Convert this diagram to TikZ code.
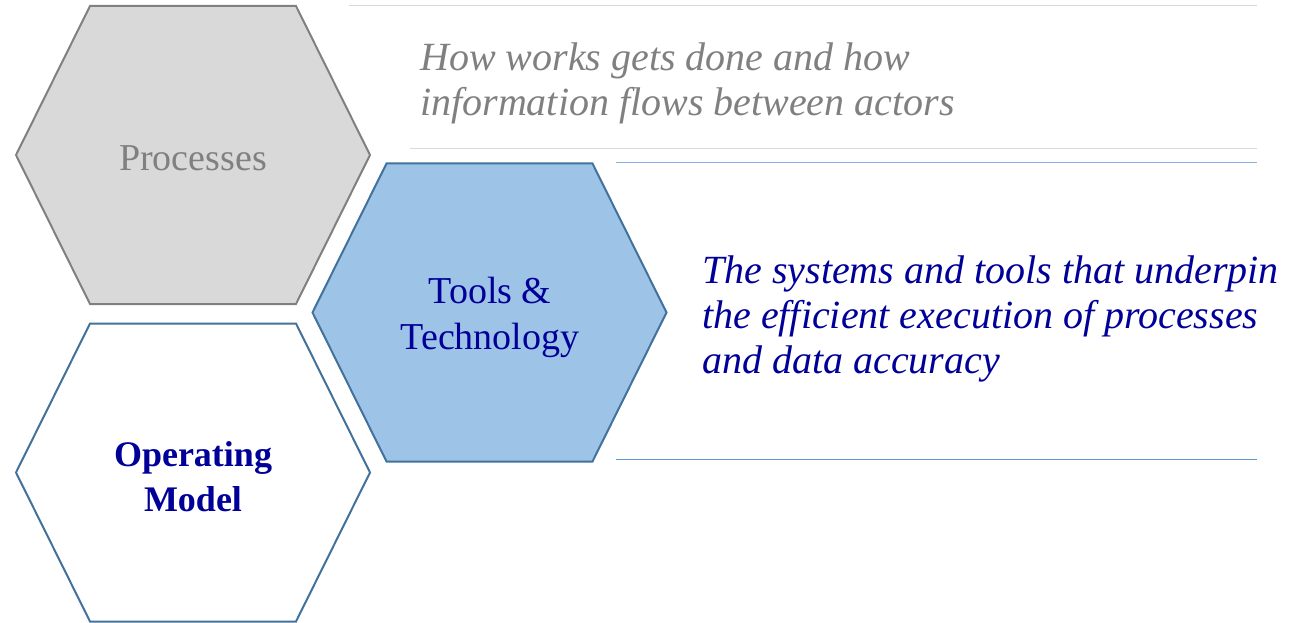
\documentclass[tikz,border=0pt]{standalone}
\usepackage{fontspec}
\setmainfont{Liberation Serif}
\usepackage{tikz}
\usetikzlibrary{positioning}

\definecolor{procfill}{HTML}{D9D9D9}
\definecolor{procline}{HTML}{808080}
\definecolor{toolfill}{HTML}{9DC3E6}
\definecolor{toolline}{HTML}{41719C}
\definecolor{darkblue}{HTML}{000099}
\definecolor{rulegray}{HTML}{D9D9D9}
\definecolor{ruleblue}{HTML}{5B9BD5}

\begin{document}
\begin{tikzpicture}[x=1pt, y=-1pt, inner sep=0pt]
    \tikzset{hexa/.pic={\path[pic actions] (-103,-149) -- (103,-149) -- (177,0)
        -- (103,149) -- (-103,149) -- (-177,0) -- cycle;}}
    \tikzstyle{procbox}=[fill=procfill, draw=procline, line width=2pt]
    \tikzstyle{toolbox}=[fill=toolfill, draw=toolline, line width=2pt]
    \tikzstyle{opbox}=[fill=white, draw=toolline, line width=2pt]
    \tikzstyle{hextext}=[align=center, font=\fontsize{38}{46}\selectfont]
    \tikzstyle{note}=[align=left, anchor=west, font=\fontsize{40}{45}\selectfont\itshape]
    \tikzstyle{rule}=[line width=1pt]

    \useasboundingbox (0,0) rectangle (1312,623);

    % hexagons
    \pic[procbox] at (193,155) {hexa};
    \pic[toolbox] at (489.5,312.5) {hexa};
    \pic[opbox] at (193,472.5) {hexa};

    \node[hextext, text=procline] (proc) at (193,158) {Processes};
    \node[hextext, text=darkblue] (tools) at (490,317) {Tools \&\\Technology};
    \node[hextext, text=darkblue, font=\fontsize{36}{45}\selectfont\bfseries] (opmodel) at (193,477) {Operating\\Model};

    % separator lines
    \coordinate (g1a) at (349,6);    \coordinate (g1b) at (1257,6);
    \coordinate (g2a) at (410,149);  \coordinate (g2b) at (1257,149);
    \coordinate (b1a) at (616,163);  \coordinate (b1b) at (1257,163);
    \coordinate (b2a) at (616,459);  \coordinate (b2b) at (1257,459);
    \draw[rule, draw=rulegray] (g1a) -- (g1b);
    \draw[rule, draw=rulegray] (g2a) -- (g2b);
    \draw[rule, draw=ruleblue!75] (b1a) -- (b1b);
    \draw[rule, draw=ruleblue] (b2a) -- (b2b);

    % descriptions
    \node[note, text=procline] (procnote) at (420,83)
        {How works gets done and how\\information flows between actors};
    \node[note, text=darkblue] (toolnote) at (702,319)
        {The systems and tools that underpin\\the efficient execution of processes\\and data accuracy};
\end{tikzpicture}
\end{document}
